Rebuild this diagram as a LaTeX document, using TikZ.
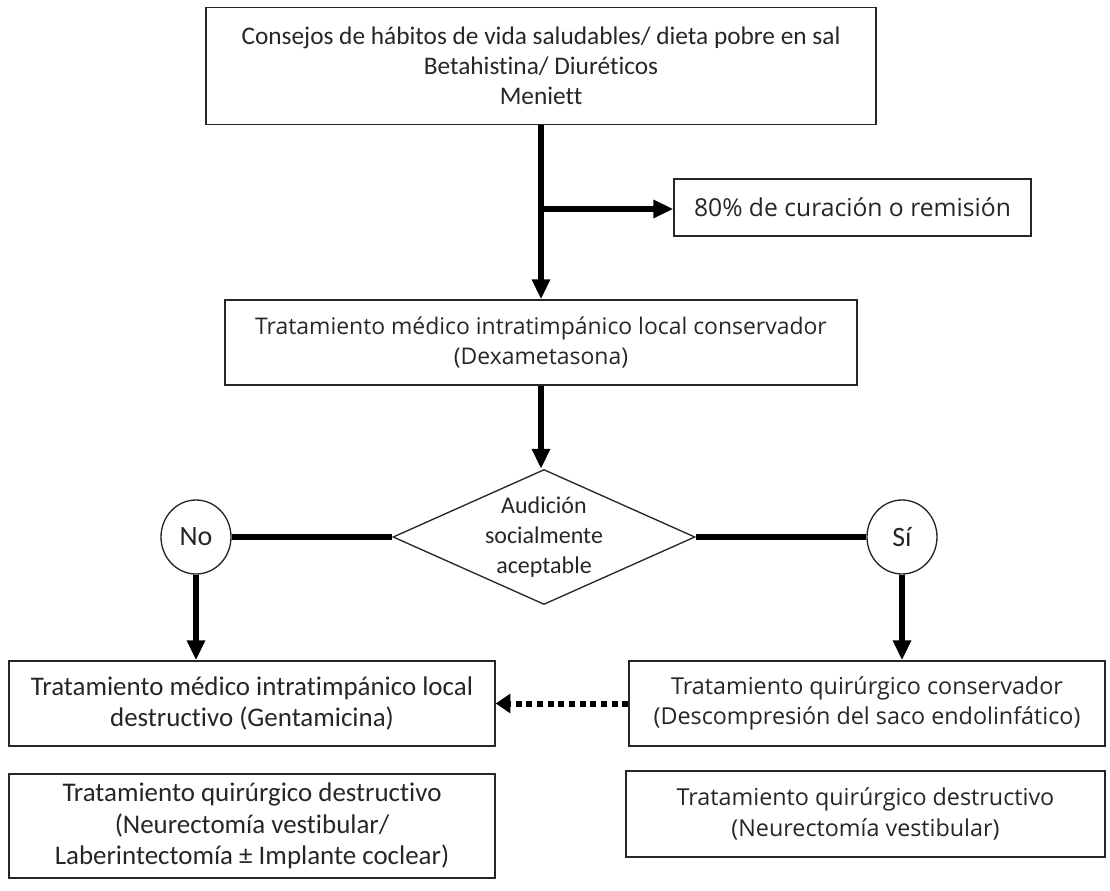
\documentclass[tikz,border=0pt]{standalone}
\usepackage{fontspec}
\setmainfont{Carlito}[Ligatures=NoCommon]
\newfontfamily\widefont{Open Sans}
\usetikzlibrary{shapes.geometric,arrows.meta}
\begin{document}
\begin{tikzpicture}[x=0.75pt,y=-0.75pt,
  box/.style={draw=black!85,line width=1pt,inner sep=0pt,align=center,text=black!85},
  thickln/.style={line width=3.9pt,black},
  arr/.style={thickln,-{Triangle[length=15pt,width=13pt]}},
  narrow/.style={font=\fontsize{20.2}{23.5}\selectfont},
  wide/.style={font=\widefont\fontsize{17.5}{23}\selectfont}]
\useasboundingbox (0,0) rectangle (1110,891);
\node[box,minimum width=670*0.75pt,minimum height=117*0.75pt,font=\fontsize{19}{22.5}\selectfont] (top) at (541,66)
  {Consejos de hábitos de vida saludables/ dieta pobre en sal\\Betahistina/ Diuréticos\\Meniett};
\node[box,minimum width=357*0.75pt,minimum height=57*0.75pt,font=\widefont\fontsize{18.5}{22.5}\selectfont] (cur) at (852.5,207.5)
  {80\% de curación o remisión};
\node[box,minimum width=632*0.75pt,minimum height=85*0.75pt,font=\widefont\fontsize{17.2}{23}\selectfont] (med) at (541,342.5)
  {Tratamiento médico intratimpánico local conservador\\(Dexametasona)};
\node[diamond,draw=black!85,line width=1pt,inner sep=0pt,minimum width=302*0.75pt,minimum height=135*0.75pt] (dia) at (544,537) {};
\node[font=\fontsize{18}{22.2}\selectfont,align=center,text=black!85] (dtxt) at (544,537) {Audición\\socialmente\\aceptable};
\node[ellipse,draw=black!85,line width=1pt,inner sep=0pt,minimum width=70*0.75pt,minimum height=74*0.75pt,font=\fontsize{21}{24}\selectfont,text=black!85] (no) at (196,537) {No};
\node[ellipse,draw=black!85,line width=1pt,inner sep=0pt,minimum width=70*0.75pt,minimum height=74*0.75pt,font=\fontsize{21}{24}\selectfont,text=black!85] (si) at (902,537) {Sí};
\node[box,narrow,minimum width=486*0.75pt,minimum height=85*0.75pt] (lb1) at (252,703.5)
  {Tratamiento médico intratimpánico local\\destructivo (Gentamicina)};
\node[box,wide,minimum width=476*0.75pt,minimum height=85*0.75pt] (rb1) at (867,703.5)
  {Tratamiento quirúrgico conservador\\(Descompresión del saco endolinfático)};
\node[box,narrow,minimum width=486*0.75pt,minimum height=104*0.75pt] (lb2) at (252,826)
  {Tratamiento quirúrgico destructivo\\(Neurectomía vestibular/\\Laberintectomía ± Implante coclear)};
\node[box,wide,minimum width=479*0.75pt,minimum height=86*0.75pt] (rb2) at (865.5,814)
  {Tratamiento quirúrgico destructivo\\(Neurectomía vestibular)};
% connectors
\draw[arr] (top.south) -- (med.north);
\coordinate (br) at (541,209);
\draw[arr] (br) -- (cur.west |- br);
\draw[arr] (med.south) -- (dia.north -| med.south);
\draw[thickln] (dia.west) -- (no.east);
\draw[thickln] (dia.east) -- (si.west);
\draw[arr] (no.south) -- (lb1.north -| no.south);
\draw[arr] (si.south) -- (rb1.north -| si.south);
\draw[line width=4.5pt,black,dash pattern=on 4.5pt off 3.5pt,-{Triangle[length=11pt,width=14pt]}] (rb1.west) -- (lb1.east);
\end{tikzpicture}
\end{document}
